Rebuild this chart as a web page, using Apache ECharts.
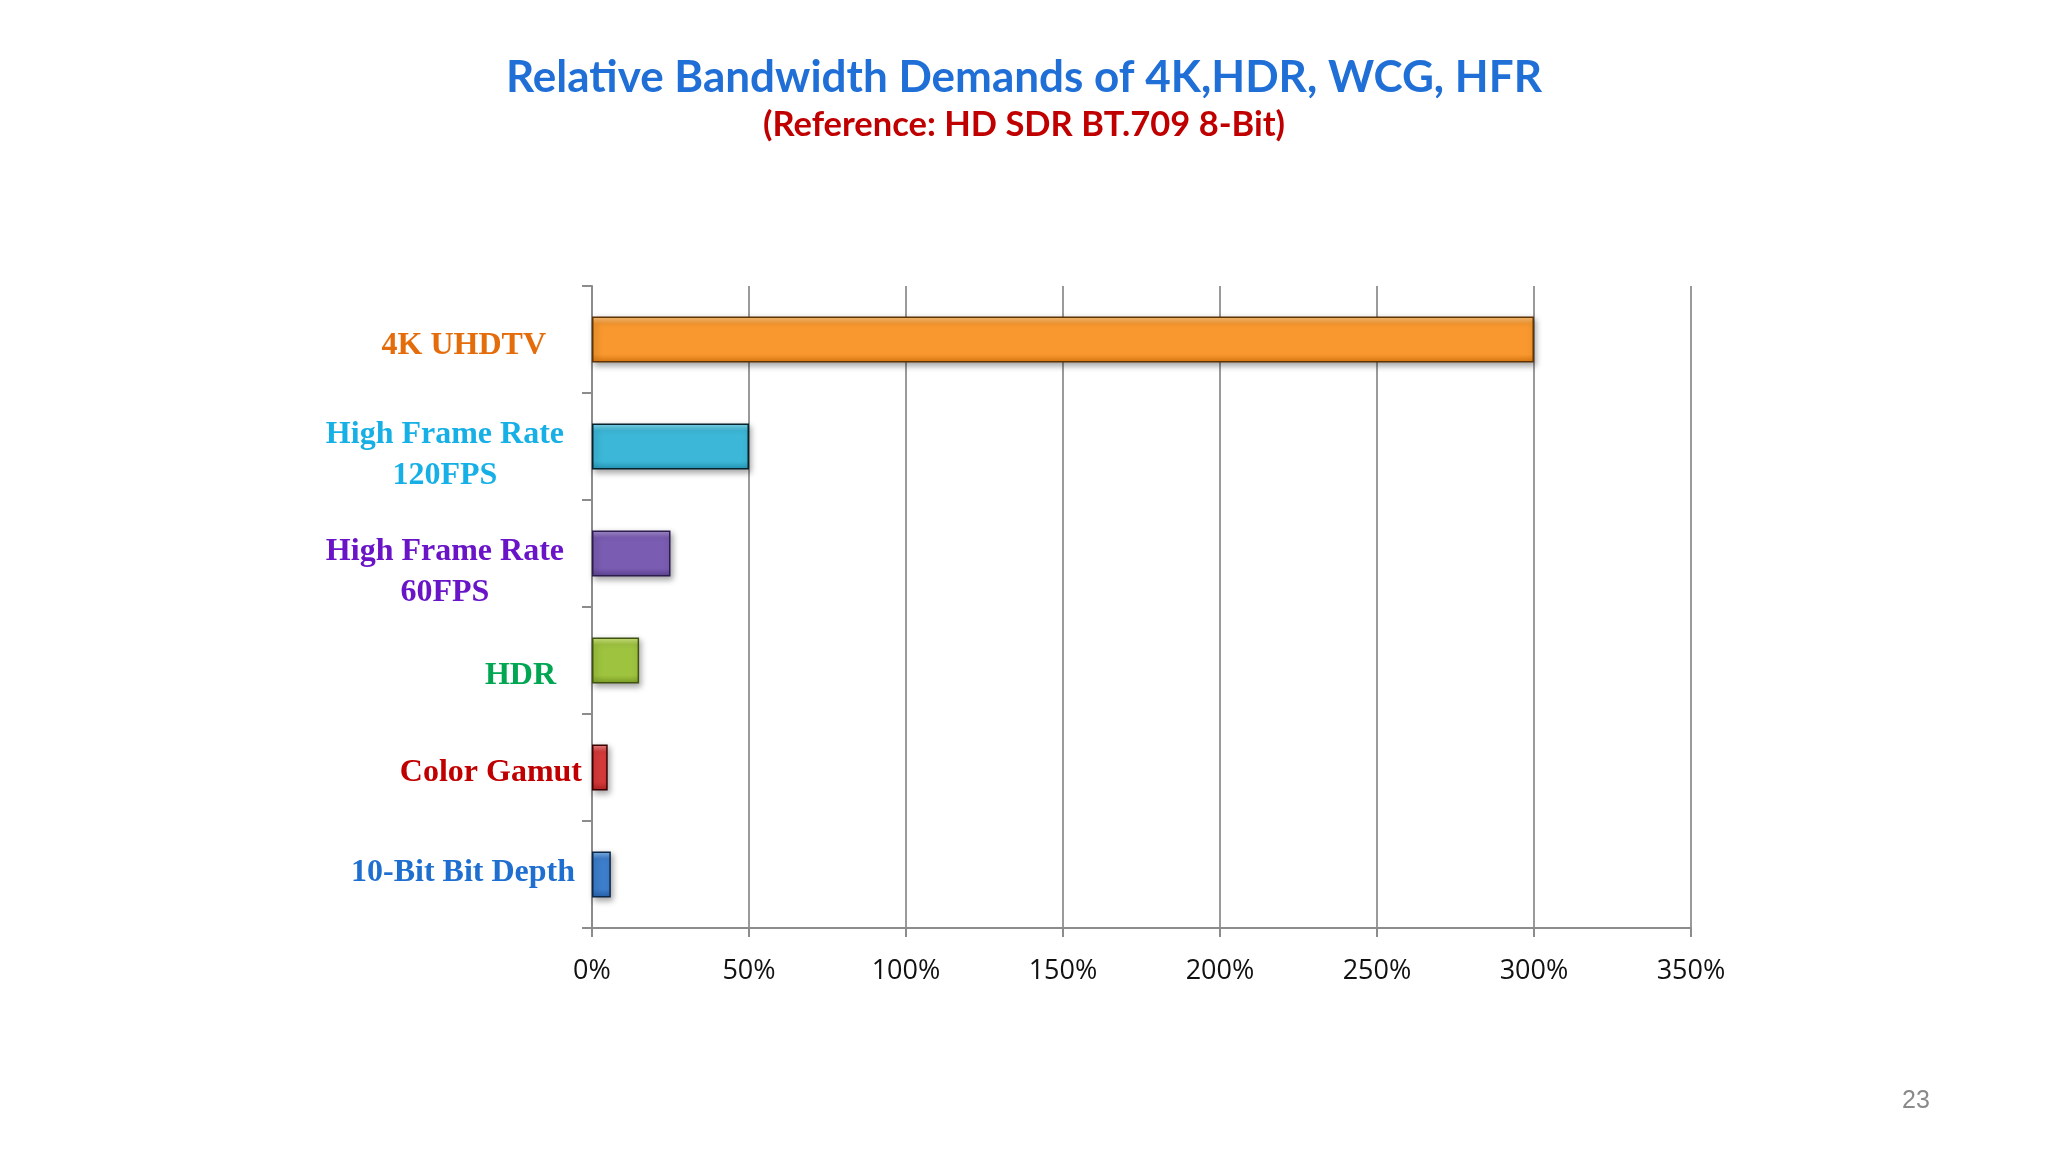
<!DOCTYPE html>
<html><head><meta charset="utf-8">
<script src="https://cdn.jsdelivr.net/npm/echarts@6/dist/echarts.min.js"></script>
<style>html,body{margin:0;padding:0;background:#fff}#c{width:2048px;height:1152px}</style>
</head><body><div id="c"></div><script>
const categories = ['4K UHDTV', 'High Frame Rate\n120FPS', 'High Frame Rate\n60FPS', 'HDR', 'Color Gamut', '10-Bit Bit Depth'];
const values = [300, 50, 25, 15, 5, 6];
const xTicks = [0, 50, 100, 150, 200, 250, 300, 350];
const titleText = 'Relative Bandwidth Demands of 4K,HDR, WCG, HFR';
const subtitleText = '(Reference: HD SDR BT.709 8-Bit)';
const pageNumber = '23';

const labelColors = ['#e46c0a', '#16b0e6', '#6a14c8', '#00a651', '#c00000', '#1f6fd0'];
const labelPadRight = [36, 18, 18, 26, 0, 7];
const labelShiftY = [6, 9, 19, 15, 5, -2];
const barColors = [
  {top: '#fdc47c', mid: '#f8982f', bot: '#d9770f', border: '#5e3306'},
  {top: '#86d9ee', mid: '#3cb7d7', bot: '#2595b4', border: '#06222c'},
  {top: '#a891d3', mid: '#7a5cb2', bot: '#5e4292', border: '#2c1d4c'},
  {top: '#d4ec85', mid: '#9ec33f', bot: '#7d9f26', border: '#3f5212'},
  {top: '#f08a8a', mid: '#d73a3a', bot: '#b32222', border: '#3a0000'},
  {top: '#86b9ee', mid: '#3d7ecd', bot: '#2862ac', border: '#0c2748'}
];

const rich = {};
labelColors.forEach((c, i) => {
  const base = {color: c, fontFamily: 'Liberation Serif', fontWeight: 'bold', fontSize: 32, lineHeight: 41,
                padding: [0, labelPadRight[i], 0, 0]};
  rich['k' + i] = Object.assign({}, base);
  rich['k' + i + 'c'] = Object.assign({}, base, {align: 'center'});
});

const axisData = categories.map((name, i) => {
  const d = labelShiftY[i];
  return {value: name, textStyle: {padding: d >= 0 ? [2 * d, 0, 0, 0] : [0, 0, -2 * d, 0]}};
});

const barData = values.map((v, i) => ({
  value: v,
  itemStyle: {
    color: {type: 'linear', x: 0, y: 0, x2: 0, y2: 1, colorStops: [
      {offset: 0, color: barColors[i].top},
      {offset: 0.16, color: barColors[i].mid},
      {offset: 0.82, color: barColors[i].mid},
      {offset: 1, color: barColors[i].bot}
    ]},
    borderColor: barColors[i].border,
    borderWidth: 1.5
  }
}));

const chart = echarts.init(document.getElementById('c'), null, {renderer: 'canvas'});
chart.setOption({
  backgroundColor: '#ffffff',
  animation: false,
  title: [
    {text: titleText, left: 'center', top: 51,
     textStyle: {color: '#1f6fd6', fontFamily: 'Lato', fontWeight: 'bold', fontSize: 44}},
    {text: subtitleText, left: 'center', top: 102,
     textStyle: {color: '#c00000', fontFamily: 'Lato', fontWeight: 'bold', fontSize: 34.5}},
    {text: pageNumber, left: 1897, top: 1084,
     textStyle: {color: '#8a8a8a', fontFamily: 'Liberation Sans', fontWeight: 'normal', fontSize: 25}}
  ],
  grid: {left: 592, right: 357, top: 286, bottom: 224, containLabel: false},
  xAxis: {
    type: 'value', min: xTicks[0], max: xTicks[xTicks.length - 1], interval: xTicks[1] - xTicks[0],
    axisLine: {show: true, lineStyle: {color: '#8c8c8c', width: 2}},
    axisTick: {show: true, length: 9, lineStyle: {color: '#8c8c8c', width: 2}},
    splitLine: {show: true, lineStyle: {color: '#9a9a9a', width: 2}},
    axisLabel: {formatter: '{value}%', margin: 30, color: '#111111', fontFamily: 'Open Sans', fontWeight: 500, fontSize: 27}
  },
  yAxis: {
    type: 'category', inverse: true, data: axisData,
    axisLine: {show: true, lineStyle: {color: '#8c8c8c', width: 2}},
    axisTick: {show: true, length: 10, lineStyle: {color: '#8c8c8c', width: 2}},
    splitLine: {show: false},
    axisLabel: {
      margin: 10, align: 'right',
      formatter: (val, idx) => val.split('\n').map((l, j) => j === 0 ? `{k${idx}|${l}}` : `{k${idx}c|${l}}`).join('\n'),
      rich: rich
    }
  },
  series: [{
    type: 'bar', data: barData, barWidth: 46,
    itemStyle: {shadowColor: 'rgba(0,0,0,0.35)', shadowBlur: 6, shadowOffsetX: 2, shadowOffsetY: 3}
  }]
});
</script></body></html>
